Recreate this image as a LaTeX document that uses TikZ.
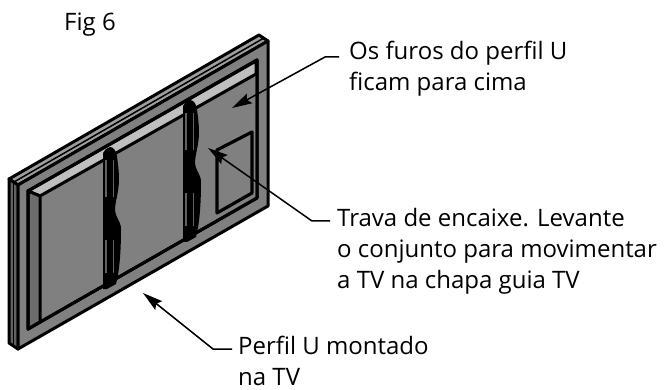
\documentclass[tikz,border=0pt]{standalone}
\usepackage{fontspec}
\setmainfont{Open Sans}
\usetikzlibrary{arrows.meta}
\definecolor{facegray}{gray}{0.50}
\definecolor{sidegray}{gray}{0.38}
\definecolor{topgray}{gray}{0.62}
\definecolor{stripgray}{gray}{0.75}
\tikzset{
  partline/.style={draw=black,line width=3pt,line join=round},
  leader/.style={draw=black,line width=1.5pt,-{Stealth[length=20pt,width=11pt,inset=3pt]}},
  notetext/.style={anchor=north west,align=left,inner sep=0pt,font=\fontsize{24}{31}\selectfont},
}
\begin{document}
\begin{tikzpicture}[x=1pt,y=-1pt]
\useasboundingbox (0,0) rectangle (664,390);
% outer board
\filldraw[partline,fill=topgray] (9,179) -- (259,35) -- (268,41) -- (18,185) -- cycle;
\filldraw[partline,fill=sidegray] (9,179) -- (18,185) -- (18,349) -- (9,343) -- cycle;
\filldraw[partline,fill=facegray] (18,185) -- (268,41) -- (268,206) -- (18,349) -- cycle;
\draw[black,line width=1.5pt] (13.5,182) -- (13.5,346);
\draw[black,line width=1.5pt] (14,182) -- (264,38);
% U profile
\filldraw[partline,fill=facegray] (28,191) -- (257,60) -- (257,198) -- (28,329) -- cycle;
\filldraw[partline,fill=stripgray] (28,191) -- (256,61) -- (256,74) -- (40,196) -- cycle;
\filldraw[partline,fill=sidegray!60!facegray] (28,191) -- (40,196) -- (40,322) -- (28,329) -- cycle;
\draw[partline] (28,191) -- (257,60) -- (257,198) -- (28,329) -- cycle;
% window
\draw[partline,line width=3.2pt] (217,150) -- (252,132) -- (252,193) -- (217,213) -- cycle;
% brackets
\foreach \dx/\dy in {-80/47,0/0}{
\begin{scope}[shift={(\dx,\dy)}]
\fill[black] (183,106) .. controls (184,103) and (187,101) .. (190,100)
  .. controls (194,100) and (196,104) .. (197,109)
  .. controls (198,118) and (199,124) .. (199,132)
  .. controls (199,145) and (195,155) .. (195,163)
  .. controls (195,170) and (201,174) .. (201,182)
  .. controls (201,200) and (200,222) .. (196,237)
  -- (187,242) -- (183,242) -- cycle;
\draw[sidegray,line width=1.1pt] (186,113) -- (186,150);
\draw[sidegray,line width=1.1pt] (193.5,113) -- (193.5,150);
\draw[sidegray,line width=1.1pt] (186,193) -- (186,226);
\draw[sidegray,line width=1.1pt] (193.5,193) -- (193.5,226);
\end{scope}}
% labels
\node[notetext] (figlabel) at (64,13) {Fig 6};
\node[notetext] (topnote) at (349,41) {Os furos do perfil U\\ficam para cima};
\node[notetext] (locknote) at (337,208) {Trava de encaixe. Levante\\o conjunto para movimentar\\a TV na chapa guia TV};
\node[notetext] (profnote) at (238,336) {Perfil U montado\\na TV};
% leaders
\coordinate (toptip) at (232,108);
\coordinate (locktip) at (208,148);
\coordinate (proftip) at (143,293);
\draw[leader] ([xshift=-10pt,yshift=-16pt]topnote.north west) -- (325,57) -- (toptip);
\draw[leader] ([xshift=-7pt,yshift=-13pt]locknote.north west) -- (312,221) -- (locktip);
\draw[leader] ([xshift=-6pt,yshift=-13pt]profnote.north west) -- (213,349) -- (proftip);
\end{tikzpicture}
\end{document}
